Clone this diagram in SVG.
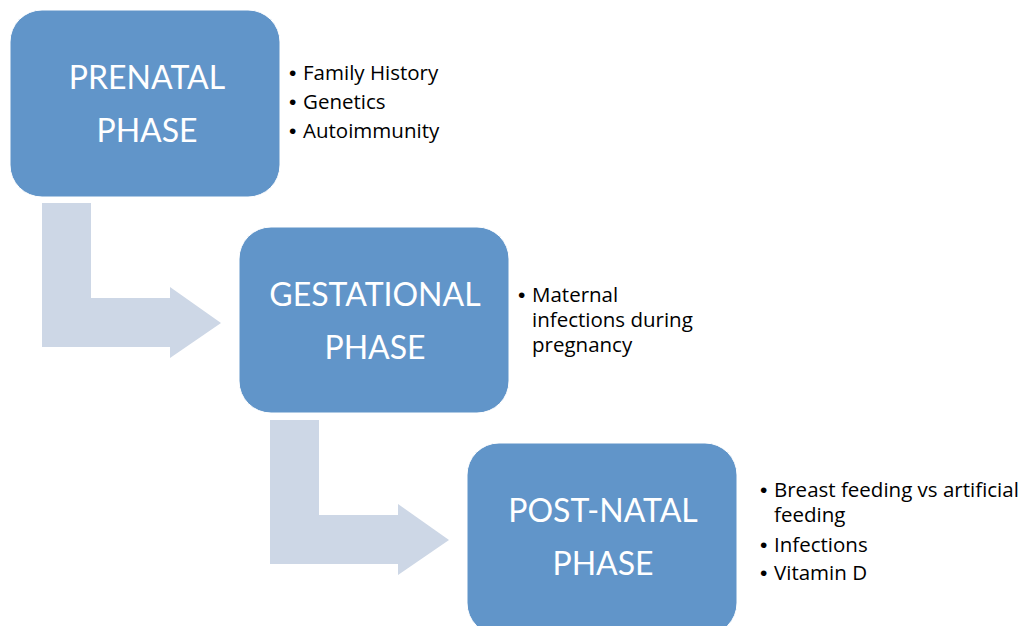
<svg xmlns="http://www.w3.org/2000/svg" width="1034" height="626" viewBox="0 0 1034 626">
<style>
.box{fill:#6195C9;stroke:#ffffff;stroke-width:1}
.arrow{fill:#CDD7E6}
.title{font-family:Lato,"Liberation Sans",sans-serif;font-size:32px;fill:#ffffff;text-anchor:middle}
.bul{font-family:"Open Sans","Liberation Sans",sans-serif;font-size:20.5px;fill:#000000}
.dot{font-family:"Liberation Sans",sans-serif;font-size:21px;fill:#000000}
</style>
<rect width="1034" height="626" fill="#ffffff"/>
<g id="connectors">
<path class="arrow" d="M42,203 H91 V298 H170 V287 L221,323 L170,358 V347 H42 Z"/>
<path class="arrow" d="M270,420 H319 V515 H398 V504 L449,540 L398,575 V564 H270 Z"/>
</g>
<g id="prenatal">
<rect class="box" x="10" y="10" width="270" height="187" rx="32"/>
<text class="title" x="147" y="89">PRENATAL</text>
<text class="title" x="147" y="142">PHASE</text>
</g>
<g id="prenatal-notes">
<text class="bul" y="80"><tspan class="dot" x="289">•</tspan><tspan x="303">Family History</tspan></text>
<text class="bul" y="109"><tspan class="dot" x="289">•</tspan><tspan x="303">Genetics</tspan></text>
<text class="bul" y="138"><tspan class="dot" x="289">•</tspan><tspan x="303">Autoimmunity</tspan></text>
</g>
<g id="gestational">
<rect class="box" x="239" y="227" width="270" height="186" rx="32"/>
<text class="title" x="375" y="306">GESTATIONAL</text>
<text class="title" x="375" y="359">PHASE</text>
</g>
<g id="gestational-notes">
<text class="bul" y="302"><tspan class="dot" x="518">•</tspan><tspan x="532">Maternal</tspan><tspan x="532" y="327">infections during</tspan><tspan x="532" y="352">pregnancy</tspan></text>
</g>
<g id="postnatal">
<rect class="box" x="467" y="443" width="270" height="192" rx="32"/>
<text class="title" x="603" y="522">POST-NATAL</text>
<text class="title" x="603" y="575">PHASE</text>
</g>
<g id="postnatal-notes">
<text class="bul" y="497"><tspan class="dot" x="760">•</tspan><tspan x="774">Breast feeding vs artificial</tspan><tspan x="774" y="522">feeding</tspan></text>
<text class="bul" y="552"><tspan class="dot" x="760">•</tspan><tspan x="774">Infections</tspan></text>
<text class="bul" y="580"><tspan class="dot" x="760">•</tspan><tspan x="774">Vitamin D</tspan></text>
</g>
</svg>
